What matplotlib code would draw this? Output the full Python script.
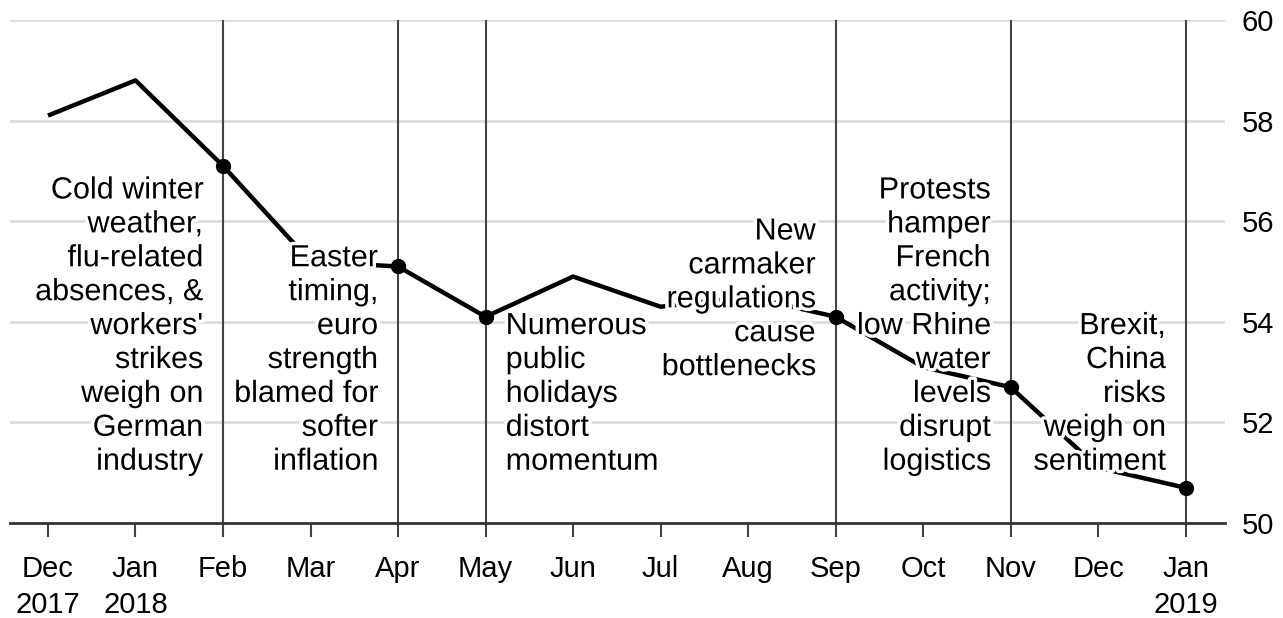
import matplotlib
matplotlib.use('Agg')
import matplotlib.pyplot as plt
import matplotlib.patheffects as pe
import numpy as np

plt.rcParams['font.family'] = ['Liberation Sans', 'DejaVu Sans']

# Monthly composite PMI, Dec 2017 - Jan 2019
months = ['Dec\n2017', 'Jan\n2018', 'Feb', 'Mar', 'Apr', 'May', 'Jun', 'Jul',
          'Aug', 'Sep', 'Oct', 'Nov', 'Dec', 'Jan\n2019']
pmi = [58.1, 58.8, 57.1, 55.2, 55.1, 54.1, 54.9, 54.3, 54.5, 54.1, 53.1, 52.7, 51.1, 50.7]

# Months with a marked event and their explanations
event_idx = [2, 4, 5, 9, 11, 13]
event_text = [
    "Cold winter\nweather,\nflu-related\nabsences, &\nworkers'\nstrikes\nweigh on\nGerman\nindustry",
    "Easter\ntiming,\neuro\nstrength\nblamed for\nsofter\ninflation",
    "Numerous\npublic\nholidays\ndistort\nmomentum",
    "New\ncarmaker\nregulations\ncause\nbottlenecks",
    "Protests\nhamper\nFrench\nactivity;\nlow Rhine\nwater\nlevels\ndisrupt\nlogistics",
    "Brexit,\nChina\nrisks\nweigh on\nsentiment",
]
event_side = ['left', 'left', 'right', 'left', 'left', 'left']
event_bottom = [50.92, 50.92, 50.92, 52.8, 50.92, 50.92]
y_ticks = [50, 52, 54, 56, 58, 60]

fig = plt.figure(figsize=(12.83, 6.18), dpi=100)
ax = fig.add_axes([0.0078, 0.1537, 0.9470, 0.8139])

x = np.arange(len(months))

for yv in y_ticks[1:]:
    ax.axhline(yv, color='#dddddd', lw=2, zorder=1)

for i in event_idx:
    ax.axvline(i, color='#444444', lw=1.5, zorder=2)

ax.plot(x, pmi, color='black', lw=3.2, zorder=3, solid_capstyle='butt')
ax.plot(x[event_idx], np.array(pmi)[event_idx], 'o', color='black', ms=10, zorder=4)

halo = [pe.withStroke(linewidth=5, foreground='white')]
for i, txt, side, yb in zip(event_idx, event_text, event_side, event_bottom):
    if side == 'left':
        ax.text(i - 0.23, yb, txt, ha='right', va='bottom', fontsize=22,
                linespacing=1.17, color='black', zorder=5, path_effects=halo)
    else:
        ax.text(i + 0.23, yb, txt, ha='left', va='bottom', fontsize=22,
                linespacing=1.17, color='black', zorder=5, path_effects=halo)

ax.set_xlim(-0.434, 13.45)
ax.set_ylim(50, 60)
ax.set_xticks(x)
ax.set_xticklabels(months, fontsize=21, linespacing=1.35)
ax.set_yticks(y_ticks)
ax.yaxis.tick_right()
ax.tick_params(axis='y', length=0, pad=12, labelsize=21)
ax.tick_params(axis='x', length=10, width=1.5, color='#444444', pad=13)

for s in ['top', 'right', 'left']:
    ax.spines[s].set_visible(False)
ax.spines['bottom'].set_color('#333333')
ax.spines['bottom'].set_linewidth(2)
ax.spines['bottom'].set_zorder(2)

fig.savefig('out.png', dpi=100)
